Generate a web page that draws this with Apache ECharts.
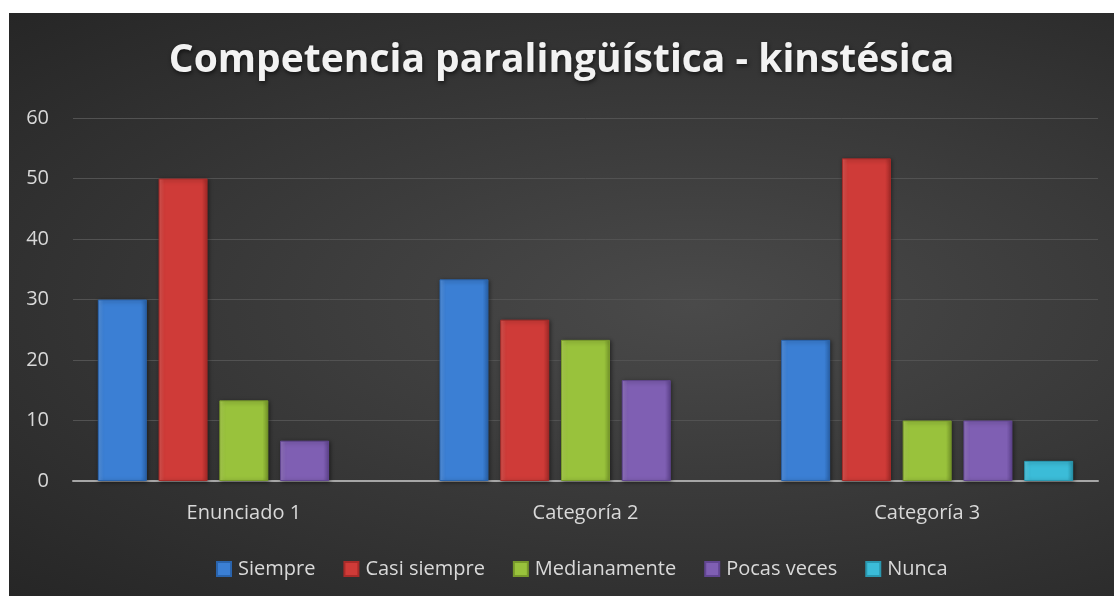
<!DOCTYPE html>
<html>
<head>
<meta charset="utf-8">
<script src="https://cdn.jsdelivr.net/npm/echarts@6/dist/echarts.min.js"></script>
<style>
  html, body { margin: 0; padding: 0; background: #fff; }
  #chart {
    position: absolute; left: 9px; top: 13px; width: 1105px; height: 583px;
    background: radial-gradient(ellipse at 62% 50%, #4a4a4a 0%, #3a3a3a 45%, #262626 100%);
  }
</style>
</head>
<body>
<div id="chart"></div>
<script>
// datos
const categories = ['Enunciado 1', 'Categoría 2', 'Categoría 3'];
const siempre = [30, 33.33, 23.33];
const casiSiempre = [50, 26.67, 53.33];
const medianamente = [13.33, 23.33, 10];
const pocasVeces = [6.67, 16.67, 10];
const nunca = [0, 0, 3.33];
const yTicks = [0, 10, 20, 30, 40, 50, 60];

const names = ['Siempre', 'Casi siempre', 'Medianamente', 'Pocas veces', 'Nunca'];
const values = [siempre, casiSiempre, medianamente, pocasVeces, nunca];
// [claro, base, oscuro]
const palette = [
  ['#5b9ae8', '#3b7fd4', '#2a64ad'],
  ['#e25a56', '#cf3b38', '#a82b29'],
  ['#b3d856', '#99c23c', '#789a2b'],
  ['#9a7cc7', '#7f5fb3', '#624692'],
  ['#5fd3ec', '#3bbcd8', '#2a98b0']
];

function bevel(c) {
  return {
    type: 'linear', x: 0, y: 0, x2: 1, y2: 0,
    colorStops: [
      { offset: 0, color: c[0] },
      { offset: 0.12, color: c[1] },
      { offset: 0.88, color: c[1] },
      { offset: 1, color: c[2] }
    ]
  };
}

const series = names.map((n, i) => ({
  name: n,
  type: 'bar',
  barWidth: 49,
  barGap: '24%',
  // los ceros no se dibujan en el original
  data: values[i].map(v => v === 0 ? { value: 0, itemStyle: { opacity: 0 } } : v),
  itemStyle: {
    color: bevel(palette[i]),
    borderColor: palette[i][2],
    borderWidth: 1,
    shadowColor: 'rgba(0,0,0,0.45)',
    shadowBlur: 4,
    shadowOffsetX: 1,
    shadowOffsetY: 1
  }
}));

const myChart = echarts.init(document.getElementById('chart'));
myChart.setOption({
  backgroundColor: 'transparent',
  animation: false,
  title: {
    text: 'Competencia paralingüística - kinstésica',
    left: 'center',
    top: 23,
    textStyle: {
      color: '#f2f2f2',
      fontFamily: 'Open Sans',
      fontWeight: 'bold',
      fontSize: 39,
      textShadowColor: 'rgba(0,0,0,0.6)',
      textShadowBlur: 4,
      textShadowOffsetX: 1,
      textShadowOffsetY: 2
    }
  },
  legend: {
    bottom: 12,
    left: 202,
    itemWidth: 14,
    itemHeight: 14,
    itemGap: 28,
    icon: 'rect',
    data: names,
    textStyle: { color: '#d9d9d9', fontFamily: 'Open Sans', fontSize: 20, padding: [0, 0, 0, 2] }
  },
  grid: { left: 64, right: 16, top: 105, bottom: 115 },
  xAxis: {
    type: 'category',
    data: categories,
    axisLine: { lineStyle: { color: '#a6a6a6', width: 2 } },
    axisTick: { show: false },
    axisLabel: { color: '#d9d9d9', fontFamily: 'Open Sans', fontSize: 20, margin: 22 }
  },
  yAxis: {
    type: 'value',
    min: yTicks[0],
    max: yTicks[yTicks.length - 1],
    interval: 10,
    axisLine: { show: false },
    axisTick: { show: false },
    axisLabel: { color: '#d9d9d9', fontFamily: 'Open Sans', fontSize: 20, margin: 24 },
    splitLine: { lineStyle: { color: '#525252', width: 1 } }
  },
  series: series
});
</script>
</body>
</html>
